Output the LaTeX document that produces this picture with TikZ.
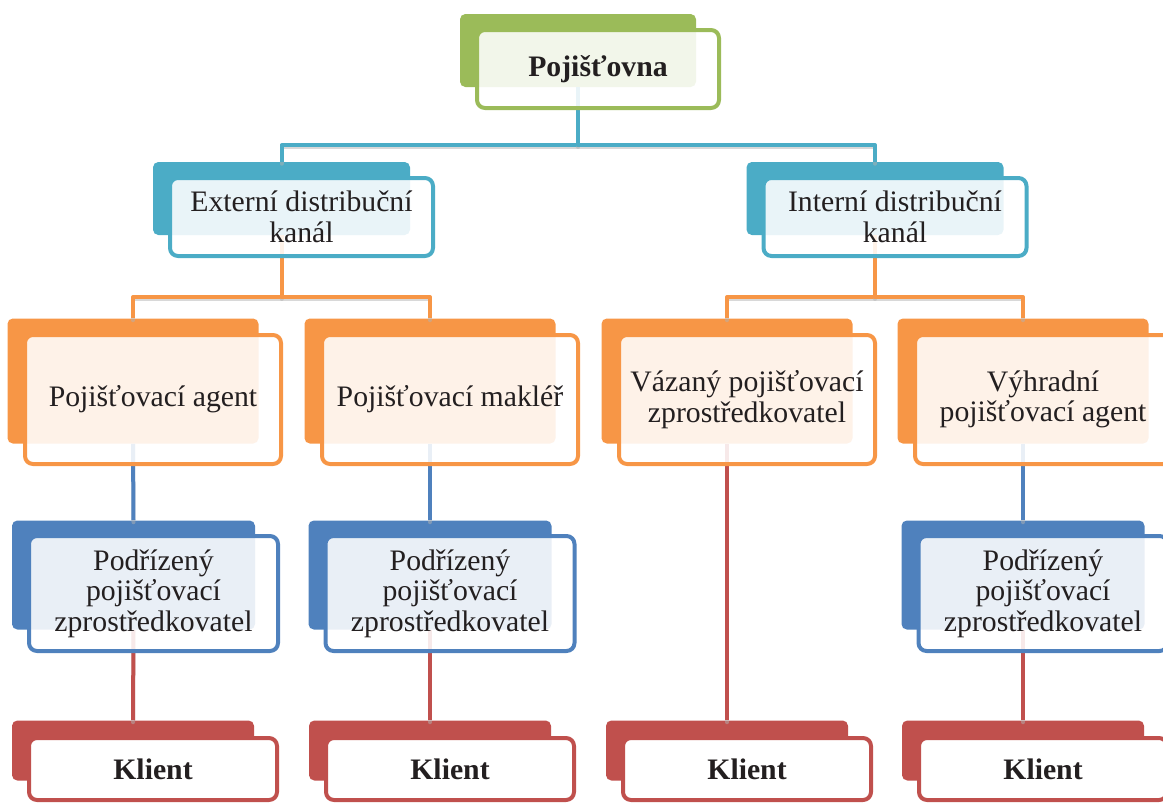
\documentclass[tikz,border=0pt]{standalone}
\usepackage{fontspec}
\setmainfont{Liberation Serif}
\usepackage{tikz}
\usetikzlibrary{calc}
\definecolor{zelena}{HTML}{9BBB59}
\definecolor{tyrkys}{HTML}{4BACC6}
\definecolor{oranz}{HTML}{F79646}
\definecolor{modra}{HTML}{4F81BD}
\definecolor{cervena}{HTML}{C0504D}
\definecolor{pismo}{HTML}{231F20}
\tikzstyle{every node}=[font=\fontsize{22.3}{23}\selectfont,text=pismo]

\begin{document}
\begin{tikzpicture}[line cap=round,line join=round,x=0.75pt,y=-0.75pt,
  zadni/.style={fill=#1,rounded corners=4pt,inner sep=0pt},
  predni/.style={draw=#1,line width=3pt,rounded corners=6pt,fill=white,fill opacity=0.88,text opacity=1,align=center,inner sep=0pt},
  spoj/.style={draw=#1,line width=3pt,line cap=butt,preaction={draw=black!30,opacity=0.5,line width=3pt,transform canvas={yshift=-1.5pt}}},
  u0/.style={minimum width=177pt,minimum height=54.75pt},
  u1/.style={minimum width=192.75pt,minimum height=54.75pt},
  u2/.style={minimum width=188.25pt,minimum height=93.75pt},
  u3/.style={minimum width=182.25pt,minimum height=81.75pt},
  u4/.style={minimum width=181.5pt,minimum height=45pt},
  p0/.style={minimum width=181.5pt,minimum height=58.5pt},
  p1/.style={minimum width=197.25pt,minimum height=58.5pt},
  p2/.style={minimum width=192pt,minimum height=96.75pt},
  p3/.style={minimum width=186.75pt,minimum height=86.25pt},
  p4/.style={minimum width=186pt,minimum height=46.5pt}]
\clip (0,0) rectangle (1163,803);
% zadni obdelniky
\node[zadni=zelena,u0] (poj-b) at (578,50.5) {};
\node[zadni=tyrkys,u1] (ext-b) at (281.5,198.5) {};
\node[zadni=tyrkys,u1] (int-b) at (875,198.5) {};
\node[zadni=oranz,u2] (agent-b) at (133,381) {};
\node[zadni=oranz,u2] (makler-b) at (430,381) {};
\node[zadni=oranz,u2] (vazany-b) at (727,381) {};
\node[zadni=oranz,u2] (vyhr-b) at (1023,381) {};
\node[zadni=modra,u3] (podr1-b) at (133.5,575) {};
\node[zadni=modra,u3] (podr2-b) at (430,575) {};
\node[zadni=modra,u3] (podr3-b) at (1023,575) {};
\node[zadni=cervena,u4] (kl1-b) at (133,750.5) {};
\node[zadni=cervena,u4] (kl2-b) at (430,750.5) {};
\node[zadni=cervena,u4] (kl3-b) at (727,750.5) {};
\node[zadni=cervena,u4] (kl4-b) at (1023,750.5) {};
% spojnice
\draw[spoj=tyrkys] (poj-b.south) -- ++(0,58) -| (ext-b.north);
\draw[spoj=tyrkys] (poj-b.south) -- ++(0,58) -| (int-b.north);
\draw[spoj=oranz] (ext-b.south) -- ++(0,62) -| (agent-b.north);
\draw[spoj=oranz] (ext-b.south) -- ++(0,62) -| (makler-b.north);
\draw[spoj=oranz] (int-b.south) -- ++(0,62) -| (vazany-b.north);
\draw[spoj=oranz] (int-b.south) -- ++(0,62) -| (vyhr-b.north);
\draw[spoj=modra] (agent-b.south) -- (podr1-b.north);
\draw[spoj=modra] (makler-b.south) -- (podr2-b.north);
\draw[spoj=modra] (vyhr-b.south) -- (podr3-b.north);
\draw[spoj=cervena] (podr1-b.south) -- (kl1-b.north);
\draw[spoj=cervena] (podr2-b.south) -- (kl2-b.north);
\draw[spoj=cervena] (vazany-b.south) -- (kl3-b.north);
\draw[spoj=cervena] (podr3-b.south) -- (kl4-b.north);
% predni obdelniky s textem
\node[predni=zelena,p0] (poj) at ($(poj-b)+(20,18.5)$) {\textbf{Pojišťovna}};
\node[predni=tyrkys,p1] (ext) at ($(ext-b)+(20,18.5)$) {Externí distribuční\\kanál};
\node[predni=tyrkys,p1] (int) at ($(int-b)+(20,18.5)$) {Interní distribuční\\kanál};
\node[predni=oranz,p2] (agent) at ($(agent-b)+(20,18.5)$) {Pojišťovací agent};
\node[predni=oranz,p2] (makler) at ($(makler-b)+(20,18.5)$) {Pojišťovací makléř};
\node[predni=oranz,p2] (vazany) at ($(vazany-b)+(20,18.5)$) {Vázaný pojišťovací\\zprostředkovatel};
\node[predni=oranz,p2] (vyhr) at ($(vyhr-b)+(20,18.5)$) {Výhradní\\pojišťovací agent};
\node[predni=modra,p3] (podr1) at ($(podr1-b)+(20,18.5)$) {Podřízený\\pojišťovací\\zprostředkovatel};
\node[predni=modra,p3] (podr2) at ($(podr2-b)+(20,18.5)$) {Podřízený\\pojišťovací\\zprostředkovatel};
\node[predni=modra,p3] (podr3) at ($(podr3-b)+(20,18.5)$) {Podřízený\\pojišťovací\\zprostředkovatel};
\node[predni=cervena,p4,fill opacity=1] (kl1) at ($(kl1-b)+(20,18.5)$) {\textbf{Klient}};
\node[predni=cervena,p4,fill opacity=1] (kl2) at ($(kl2-b)+(20,18.5)$) {\textbf{Klient}};
\node[predni=cervena,p4,fill opacity=1] (kl3) at ($(kl3-b)+(20,18.5)$) {\textbf{Klient}};
\node[predni=cervena,p4,fill opacity=1] (kl4) at ($(kl4-b)+(20,18.5)$) {\textbf{Klient}};
\end{tikzpicture}
\end{document}
